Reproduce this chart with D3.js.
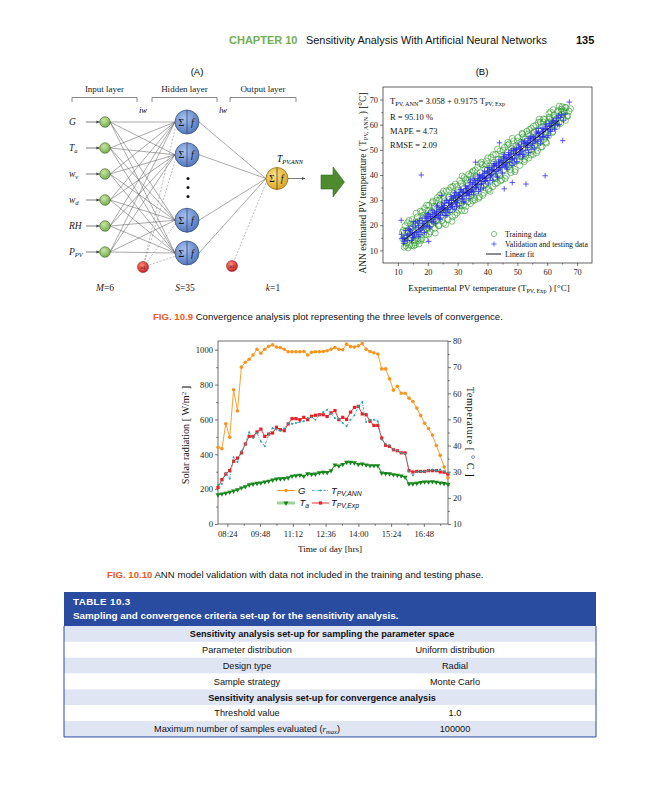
<!DOCTYPE html>
<html>
<head>
<meta charset="utf-8">
<script src="https://cdn.jsdelivr.net/npm/d3@7"></script>
<style>
  body { margin: 0; background: #fff; }
  svg text { font-family: "Liberation Serif", "Times New Roman", serif; }
  svg .sans, svg .sans text { font-family: "Liberation Sans", Arial, sans-serif; }
</style>
</head>
<body>
<div id="page"></div>
<script>
// ---------- data ----------
var times = ["08:00","08:10","08:20","08:30","08:40","08:50","09:00","09:10","09:20","09:30","09:40","09:50",
  "10:00","10:10","10:20","10:30","10:40","10:50","11:00","11:10","11:20","11:30","11:40","11:50",
  "12:00","12:10","12:20","12:30","12:40","12:50","13:00","13:10","13:20","13:30","13:40","13:50",
  "14:00","14:10","14:20","14:30","14:40","14:50","15:00","15:10","15:20","15:30","15:40","15:50",
  "16:00","16:10","16:20","16:30","16:40","16:50","17:00","17:10","17:20","17:30","17:40","17:50"];
var timeTicks = ["08:24","09:48","11:12","12:36","14:00","15:24","16:48"];
var timeMinor = ["09:06","10:30","11:54","13:18","14:42","16:06","17:30"];

var radG = [440, 432, 575, 498, 770, 648, 900, 928, 945, 970,
  1003, 980, 1003, 1020, 1028, 1015, 1012, 1003, 988, 988,
  988, 988, 990, 970, 985, 988, 988, 990, 994, 1003,
  1012, 1003, 1000, 1032, 1018, 1015, 1022, 1035, 1003, 990,
  983, 975, 890, 890, 833, 768, 790, 750, 750, 722,
  703, 665, 622, 578, 548, 510, 450, 394, 327, 265];
var tempA = [21.2, 21.5, 21.8, 22.2, 22.6, 23.1, 23.8, 24.3, 25.0, 25.3,
  25.6, 25.7, 26.1, 26.4, 26.8, 27.2, 27.3, 27.4, 27.7, 28.3,
  28.5, 28.7, 28.3, 29.2, 29.0, 29.1, 29.6, 29.8, 29.7, 30.4,
  32.6, 32.2, 32.8, 33.6, 33.6, 33.4, 32.8, 33.0, 32.6, 32.3,
  32.3, 32.3, 29.5, 29.3, 29.2, 28.9, 28.7, 28.4, 27.9, 25.4,
  25.4, 25.6, 25.9, 26.1, 26.1, 26.2, 26.0, 25.7, 25.5, 25.2];
var tempExp = [24.0, 27.0, 29.1, 30.4, 34.0, 35.2, 37.2, 40.6, 43.5, 43.5,
  45.2, 46.3, 43.5, 44.4, 44.8, 47.0, 46.1, 45.7, 48.3, 50.3,
  50.3, 49.9, 50.8, 49.9, 51.2, 51.6, 51.8, 51.8, 51.1, 52.5,
  53.4, 49.9, 50.8, 50.0, 52.8, 54.6, 55.0, 52.1, 51.8, 49.3,
  47.7, 47.7, 42.9, 40.1, 39.7, 38.4, 38.0, 37.2, 37.2, 30.4,
  29.9, 30.1, 30.1, 30.1, 30.4, 30.4, 30.4, 29.9, 29.8, 29.1];
var tempAnn = [25.0, 25.3, 29.5, 27.3, 35.5, 33.7, 37.8, 40.6, 45.1, 42.9,
  44.8, 41.6, 39.7, 44.2, 46.7, 46.1, 45.7, 46.5, 48.6, 48.3,
  48.6, 49.0, 49.3, 50.5, 50.8, 49.9, 51.6, 52.8, 53.7, 52.1,
  50.5, 50.3, 48.6, 47.4, 49.9, 51.6, 55.0, 56.7, 49.0, 49.9,
  49.9, 49.3, 42.3, 40.6, 40.1, 38.4, 38.0, 37.2, 36.8, 30.1,
  28.6, 29.9, 30.1, 30.1, 30.5, 30.8, 30.4, 30.8, 30.1, 29.5];
var gTicks = [0, 200, 400, 600, 800, 1000];
var tTicks = [10, 20, 30, 40, 50, 60, 70, 80];

// scatter (B)
var trainPts = [[11.5,17.2],[12.1,11.3],[12.4,19.8],[12.8,15.1],[13.0,13.0],[13.2,21.0],[13.5,16.8],[13.9,12.1],[14.2,18.7],[14.4,14.6],[14.8,22.3],[15.0,17.5],[15.3,11.8],[15.6,20.4],[15.9,15.9],
  [16.1,24.8],[16.3,18.2],[16.7,13.9],[16.9,21.7],[17.2,16.4],[17.5,25.6],[17.8,19.3],[18.0,14.7],[18.3,22.9],[18.6,18.0],[18.9,26.8],[19.1,20.5],[19.4,16.2],[19.7,24.1],[20.0,19.1],[20.3,27.9],[20.5,22.0],
  [20.8,17.3],[21.1,25.3],[21.4,20.6],[21.7,29.6],[22.0,23.4],[22.3,18.8],[22.6,27.1],[22.9,22.2],[23.2,31.0],[23.5,25.0],[23.8,19.9],[24.1,28.4],[24.4,23.5],[24.7,32.5],[25.0,26.3],[25.3,20.8],[25.6,29.7],
  [25.9,24.6],[26.2,33.7],[26.5,27.8],[26.8,22.3],[27.1,31.2],[27.4,26.0],[27.7,35.1],[28.0,29.2],[28.3,23.4],[28.6,32.6],[28.9,27.3],[29.2,36.4],[29.5,30.5],[29.8,24.9],[30.1,33.9],[30.4,28.6],
  [30.7,37.8],[31.0,31.9],[31.3,25.8],[31.6,35.4],[31.9,29.8],[32.2,39.0],[32.5,33.1],[32.8,27.5],[33.1,36.7],[33.4,31.0],[33.7,40.3],[34.0,34.5],[34.3,28.6],[34.6,38.2],[34.9,32.4],[35.2,41.6],
  [35.5,35.9],[35.8,30.1],[36.1,39.4],[36.4,33.8],[36.7,43.0],[37.0,37.1],[37.3,31.3],[37.6,40.9],[37.9,35.2],[38.2,44.1],[38.5,38.5],[38.8,32.8],[39.1,42.3],[39.4,36.6],[39.7,45.6],[40.0,39.7],
  [40.3,34.0],[40.6,43.5],[40.9,37.9],[41.2,47.0],[41.5,41.1],[41.8,35.4],[42.1,45.0],[42.4,39.2],[42.7,48.2],[43.0,42.5],[43.3,36.9],[43.6,46.3],[43.9,40.8],[44.2,49.6],[44.5,43.7],[44.8,38.1],
  [45.1,47.8],[45.4,42.0],[45.7,51.0],[46.0,45.1],[46.3,39.6],[46.6,49.1],[46.9,43.4],[47.2,52.3],[47.5,46.4],[47.8,40.9],[48.1,50.6],[48.4,44.7],[48.7,53.5],[49.0,47.9],[49.3,42.2],[49.6,51.8],
  [49.9,46.0],[50.2,54.9],[50.5,49.2],[50.8,43.8],[51.1,53.0],[51.4,47.4],[51.7,56.2],[52.0,50.5],[52.3,45.3],[52.6,54.3],[52.9,48.8],[53.2,57.4],[53.5,51.9],[53.8,46.7],[54.1,55.6],[54.4,50.1],
  [54.7,58.6],[55.0,53.2],[55.3,48.2],[55.6,56.9],[55.9,51.4],[56.2,59.8],[56.5,54.6],[56.8,49.7],[57.1,58.0],[57.4,52.8],[57.7,61.0],[58.0,55.9],[58.3,51.2],[58.6,59.3],[58.9,54.1],
  [59.2,62.1],[59.5,57.2],[59.8,52.7],[60.1,60.5],[60.4,55.5],[60.7,63.0],[61.0,58.4],[61.4,61.6],[61.8,56.9],[62.2,63.9],[62.6,59.7],[63.0,62.3],[63.4,65.1],[63.9,60.8],[64.3,63.6],[64.8,66.2],[65.3,62.4],[65.8,64.9],[66.3,66.8],[66.9,63.5],[67.3,65.4],
  [11.8,18.0],[12.6,11.8],[13.7,21.9],[14.1,15.1],[14.9,19.3],[15.7,13.1],[16.5,23.3],[17.1,12.6],[17.9,20.8],[18.8,17.2],[19.6,28.0],[20.4,16.5],[21.2,24.7],[21.9,21.6],[22.8,29.8],[23.6,19.8],
  [24.5,26.2],[25.2,33.6],[26.0,20.3],[26.9,31.2],[27.6,26.2],[28.4,35.5],[29.1,24.1],[29.9,32.4],[30.8,27.7],[31.5,39.6],[32.4,25.8],[33.2,37.8],[33.9,33.1],[34.8,41.0],[35.6,31.1],[36.3,39.1],
  [37.1,30.7],[38.0,45.1],[38.7,35.7],[39.5,44.1],[40.4,34.6],[41.1,41.7],[41.9,48.1],[42.8,38.5],[43.5,46.2],[44.4,37.7],[45.2,49.9],[46.1,43.6],[46.8,53.0],[47.7,42.1],[48.5,49.6],[49.2,41.3],
  [50.0,53.5],[50.9,47.3],[51.6,56.6],[52.5,46.2],[53.3,53.4],[54.0,58.1],[54.9,49.5],[55.7,57.2],[56.4,48.8],[57.3,62.2],[58.1,55.0],[58.8,61.0],[59.6,53.1],[60.3,60.9],[61.1,65.1],[61.9,57.3],
  [62.8,61.7],[63.6,65.6],[64.5,60.5],[65.6,65.5],[66.6,63.4],[67.8,66.4],[12.3,13.7],[13.4,11.0],[14.6,11.9],[15.8,12.2],[16.6,14.8],[19.0,14.3],[11.6,14.6],[18.2,25.4],[21.5,29.0],[24.0,32.0],
  [65.0,67.2],[66.1,61.7],[64.0,67.4],[62.0,66.0],[60.8,62.4],
  [12.9,17.9],[14.3,20.6],[15.5,14.2],[16.2,21.0],[17.7,14.0],[18.4,24.0],[19.2,18.6],[20.1,25.9],[20.9,20.1],[22.1,27.6],[22.5,16.9],[23.9,30.1],[24.8,21.9],[25.5,31.0],[26.3,25.4],[27.2,34.0],
  [28.1,21.6],[28.8,30.9],[29.7,35.4],[30.3,26.0],[31.1,36.6],[32.0,28.1],[32.7,38.3],[33.5,29.3],[34.4,39.8],[35.1,29.7],[35.9,42.0],[36.8,34.4],[37.5,44.5],[38.4,31.9],[39.3,40.3],[40.1,46.8],
  [40.9,33.5],[41.7,44.3],[42.6,36.4],[43.4,50.3],[44.1,39.6],[45.0,46.3],[45.9,38.6],[46.7,51.9],[47.6,44.0],[48.3,54.6],[49.1,45.4],[50.1,51.2],[50.7,45.6],[51.9,55.1],[52.8,47.4],[53.7,56.3],
  [54.5,47.9],[55.4,59.4],[56.1,52.3],[57.0,60.9],[57.9,51.1],[58.7,62.3],[59.7,55.8],[60.6,64.4],[61.6,59.8],[62.4,62.8],[63.3,59.3],[64.6,65.1],[66.0,66.9],[65.1,64.1]];
var testPts = [[11.2,16.4],[11.9,12.8],[12.5,17.9],[13.1,14.0],[13.6,18.6],[14.0,16.6],[14.5,13.9],[15.0,19.7],[15.4,15.8],[15.9,20.9],[16.3,17.2],[16.8,15.6],[17.2,21.9],[17.6,18.1],[18.1,22.8],[18.5,19.0],
  [18.9,17.1],[19.3,23.6],[19.8,20.0],[20.2,24.7],[20.6,19.4],[21.0,23.5],[21.4,26.0],[21.8,21.2],[22.2,25.1],[22.6,20.6],[23.0,27.3],[23.4,23.0],[23.8,26.2],[24.2,22.4],[24.6,28.5],[25.0,25.1],
  [25.4,27.8],[25.8,23.9],[26.2,29.9],[26.6,26.3],[27.0,28.9],[27.4,25.2],[27.8,31.4],[28.2,27.6],[28.6,30.6],[29.0,26.4],[29.4,32.9],[29.8,29.1],[30.2,31.9],[30.6,27.8],[31.0,34.2],[31.4,30.4],
  [31.8,33.5],[32.2,29.2],[32.6,35.6],[33.0,31.9],[33.4,34.8],[33.8,30.6],[34.2,37.0],[34.6,33.4],[35.0,36.3],[35.4,32.1],[35.8,38.6],[36.2,34.9],[36.6,37.8],[37.0,33.5],[37.4,40.1],[37.8,36.2],
  [38.2,39.3],[38.6,34.9],[39.0,41.6],[39.4,37.8],[39.8,40.8],[40.2,36.4],[40.6,42.9],[41.0,39.3],[41.4,42.2],[41.8,37.9],[42.2,44.5],[42.6,40.7],[43.0,43.8],[43.4,39.2],[43.8,46.0],[44.2,42.1],
  [44.6,45.1],[45.0,40.8],[45.4,47.4],[45.8,43.6],[46.2,46.7],[46.6,42.3],[47.0,48.9],[47.4,45.0],[47.8,48.1],[48.2,43.8],[48.6,50.4],[49.0,46.5],[49.4,49.6],[49.8,45.3],[50.3,51.9],[50.8,48.1],
  [51.3,51.3],[51.8,47.2],[52.3,53.6],[52.8,49.9],[53.3,52.8],[53.8,48.9],[54.3,55.4],[54.8,51.7],[55.3,54.6],[55.8,50.8],[56.3,57.1],[56.8,53.4],[57.3,56.5],[57.8,52.6],[58.3,58.7],[58.8,55.2],
  [59.4,58.4],[60.0,55.0],[60.6,60.5],[61.2,57.3],[61.8,61.4],[62.5,58.2],[63.2,62.6],[64.0,60.1],[64.8,63.9],
  [12.0,15.0],[13.3,16.4],[14.8,17.1],[16.0,19.0],[17.0,17.6],[18.3,20.8],[19.5,19.6],[20.9,23.4],[22.0,22.1],[23.1,25.5],[24.3,24.0],[25.6,27.9],[26.8,26.4],[28.0,29.9],[29.2,28.7],[30.4,32.2],
  [31.6,30.6],[32.8,34.6],[34.0,33.0],[35.2,36.9],[36.4,35.1],[37.6,39.0],[38.8,37.4],[40.0,41.3],[41.2,39.8],[42.4,43.5],[43.6,42.0],[44.8,45.9],[46.0,44.1],[47.2,48.2],[48.4,46.4],[49.6,50.2],
  [50.9,48.8],[52.1,52.5],[53.4,51.0],[54.6,54.8],[55.9,53.1],[57.1,57.0],[58.4,55.4],[59.7,59.4],[61.0,57.9],[62.2,61.5],
  [11.4,14.7],[12.3,13.6],[13.9,18.3],[15.2,15.1],[16.6,21.4],[17.4,16.3],[18.7,20.6],[19.9,24.2],[20.7,18.9],[21.6,24.4],[22.4,23.1],[23.3,27.8],[24.0,22.8],[24.9,26.8],[25.7,29.2],[26.4,23.9],
  [27.3,29.9],[28.1,27.5],[28.9,32.9],[29.6,27.4],[30.5,31.7],[31.2,34.1],[32.0,29.4],[32.9,34.7],[33.6,33.0],[34.4,38.1],[35.3,33.4],[36.0,36.4],[36.8,39.6],[37.7,34.4],[38.4,39.9],[39.2,37.5],
  [40.1,42.9],[40.8,37.9],[41.6,42.0],[42.5,44.4],[43.2,39.2],[44.0,44.4],[44.9,43.6],[45.6,48.1],[46.4,43.2],[47.3,47.0],[48.0,49.8],[48.9,44.8],[49.7,50.4],[50.5,48.2],[51.4,53.2],[52.2,48.1],
  [53.0,51.9],[53.9,54.6],[54.6,50.2],[55.5,55.3],[56.2,54.0],[57.0,58.5],[57.9,54.0],[58.6,57.5],[59.5,60.2],[60.3,55.7],[61.5,60.7],[62.7,59.6],[63.8,63.6],[65.5,61.8],
  [20.0,21.9],[22.7,23.7],[25.3,26.6],[27.9,28.4],[30.0,30.0],[31.9,33.0],[34.5,34.1],[36.9,37.6],[39.1,38.6],[41.5,41.9],[43.9,43.0],[46.5,46.4],[48.8,48.6],[51.1,50.3],[53.6,53.1],[56.0,55.0],
  [58.5,57.2],[60.9,59.4],[26.1,25.0],[33.3,32.6],[38.3,38.9],[45.3,45.6],[29.3,31.0],[35.9,35.0],
  [11.7,14.9],[13.0,15.9],[14.3,17.8],[15.6,16.5],[16.9,19.8],[18.0,18.9],[19.1,21.6],[20.4,22.6],[21.3,21.4],[22.9,24.9],[23.7,24.1],[24.7,27.1],[25.9,26.0],[26.9,28.9],[27.7,27.0],[28.5,30.9],
  [29.5,29.2],[30.7,32.9],[31.7,31.4],[32.5,33.0],[33.8,35.6],[34.9,34.0],[35.6,37.8],[36.5,36.1],[37.3,38.6],[38.0,36.6],[38.9,40.6],[39.7,38.9],[40.5,41.5],[41.3,40.2],[42.0,43.7],[42.9,41.4],
  [43.7,45.1],[44.5,43.0],[45.5,46.8],[46.3,44.9],[47.1,47.9],[47.9,46.2],[48.7,49.6],[49.5,47.8],[50.6,50.9],[51.6,49.5],[52.5,52.8],[53.5,52.0],[54.4,53.9],[55.2,52.6],[56.6,56.6],[57.6,55.2],
  [58.9,58.2],[60.2,58.0],[61.4,59.7],[62.9,61.6],[63.5,60.2],[64.4,62.9],[66.0,64.2],[14.9,15.0],[19.6,22.9],[24.4,26.4],[29.0,31.8],[33.9,32.2],
  [67.4,69.0],[17.8,40.0],[59.3,39.7],[52.9,36.4],[48.3,37.0],[11.1,22.0],[65.2,53.7],[45.6,34.5],[24.5,31.9],[20.3,13.6],[36.0,45.1],[44.0,52.8],[15.3,21.5]];
var fitCoef = [3.058, 0.9175];
var fitRange = [12, 64];
var scatterTicks = [10, 20, 30, 40, 50, 60, 70];

// network diagram (A)
var inputLabels = [["G",""],["T","a"],["w","v"],["w","d"],["RH",""],["P","PV"]];
var hiddenSlots = ["h1","h2","gap","h3","h4"];

// table 10.3
var tableRows = [
  ["sub", "Sensitivity analysis set-up for sampling the parameter space", ""],
  ["row", "Parameter distribution", "Uniform distribution"],
  ["row", "Design type", "Radial"],
  ["row", "Sample strategy", "Monte Carlo"],
  ["sub", "Sensitivity analysis set-up for convergence analysis", ""],
  ["row", "Threshold value", "1.0"],
  ["row", "Maximum number of samples evaluated", "100000"]
];

// ---------- page ----------
var svg = d3.select('#page').append('svg')
  .attr('width', 648)
  .attr('height', 800)

svg.append('rect').attr('width', 648).attr('height', 800).attr('fill', '#fff')

var defs = svg.append('defs')
function grad(id, c1, c2){
  var g = defs.append('radialGradient').attr('id', id)
    .attr('cx', '40%').attr('cy', '35%').attr('r', '70%')
  g.append('stop').attr('offset', '0%').attr('stop-color', c1)
  g.append('stop').attr('offset', '100%').attr('stop-color', c2)
}
grad('gGreen', '#c8e6a4', '#6fa948')
grad('gBlue', '#a9c2ee', '#4d72b8')
grad('gGold', '#fbe08a', '#d9a21e')
grad('gRed', '#ff8a7a', '#c81b1b')

defs.append('marker').attr('id', 'arr')
  .attr('viewBox', '0 0 10 10').attr('refX', 9).attr('refY', 5)
  .attr('markerWidth', 5).attr('markerHeight', 5).attr('orient', 'auto')
  .append('path').attr('d', 'M0,1 L10,5 L0,9 z').attr('fill', '#444')

// header
var head = svg.append('g').attr('class', 'sans')
head.append('text').attr('x', 229).attr('y', 44).attr('font-size', 11)
  .attr('font-weight', 'bold').attr('fill', '#74ae55').text('CHAPTER 10')
head.append('text').attr('x', 306).attr('y', 44).attr('font-size', 10.9)
  .attr('fill', '#111').text('Sensitivity Analysis With Artificial Neural Networks')
head.append('text').attr('x', 576).attr('y', 44).attr('font-size', 11)
  .attr('font-weight', 'bold').attr('fill', '#111').text('135')

// ---------- (A) network ----------
var net = svg.append('g')
net.append('text').attr('class', 'sans').attr('x', 197).attr('y', 75)
  .attr('font-size', 9.5).attr('text-anchor', 'middle').text('(A)')

var layers = [["Input layer", 72, 137], ["Hidden layer", 152, 217], ["Output layer", 230, 296]]
net.selectAll('.bracket').data(layers).enter().append('path')
  .attr('class', 'bracket')
  .attr('d', function(d){ return 'M' + d[1] + ',102V97.5H' + d[2] + 'V102' })
  .attr('fill', 'none').attr('stroke', '#555').attr('stroke-width', 0.7)
net.selectAll('.layerText').data(layers).enter().append('text')
  .attr('class', 'layerText')
  .attr('x', function(d){ return (d[1] + d[2]) / 2 }).attr('y', 92)
  .attr('font-size', 9).attr('text-anchor', 'middle').attr('fill', '#222')
  .text(function(d){ return d[0] })
net.append('text').attr('x', 143).attr('y', 113).attr('font-size', 8.5)
  .attr('font-style', 'italic').attr('text-anchor', 'middle').text('iw')
net.append('text').attr('x', 223).attr('y', 113).attr('font-size', 8.5)
  .attr('font-style', 'italic').attr('text-anchor', 'middle').text('lw')

var inX = 105, hidX = 187, outX = 277, outY = 178.5
var inY = d3.scalePoint().domain(inputLabels.map(function(d){ return d.join('') })).range([122, 252])
var hidY = d3.scalePoint().domain(hiddenSlots).range([122, 253])
var hidden = hiddenSlots.filter(function(d){ return d !== 'gap' })
var b1 = [143, 267], b2 = [232, 266]

var links = []
inputLabels.forEach(function(a){
  hidden.forEach(function(h){
    links.push([inX + 5, inY(a.join('')), hidX - 12, hidY(h)])
  })
})
net.selectAll('.link').data(links).enter().append('line')
  .attr('class', 'link')
  .attr('x1', function(d){ return d[0] }).attr('y1', function(d){ return d[1] })
  .attr('x2', function(d){ return d[2] }).attr('y2', function(d){ return d[3] })
  .attr('stroke', '#555').attr('stroke-width', 0.5)
net.selectAll('.olink').data(hidden).enter().append('line')
  .attr('class', 'olink')
  .attr('x1', hidX + 12).attr('y1', function(d){ return hidY(d) })
  .attr('x2', outX - 11).attr('y2', outY)
  .attr('stroke', '#555').attr('stroke-width', 0.5)
net.selectAll('.blink').data(hidden).enter().append('line')
  .attr('class', 'blink')
  .attr('x1', b1[0]).attr('y1', b1[1])
  .attr('x2', hidX - 11).attr('y2', function(d){ return hidY(d) + 3 })
  .attr('stroke', '#777').attr('stroke-width', 0.5).attr('stroke-dasharray', '2,1.5')
net.append('line').attr('x1', b2[0]).attr('y1', b2[1]).attr('x2', outX - 10).attr('y2', outY + 2)
  .attr('stroke', '#777').attr('stroke-width', 0.5).attr('stroke-dasharray', '2,1.5')

// input arrows, labels, nodes
net.selectAll('.inArrow').data(inputLabels).enter().append('line')
  .attr('class', 'inArrow')
  .attr('x1', 86).attr('x2', 99.5)
  .attr('y1', function(d){ return inY(d.join('')) }).attr('y2', function(d){ return inY(d.join('')) })
  .attr('stroke', '#444').attr('stroke-width', 0.7).attr('marker-end', 'url(#arr)')
var inLab = net.selectAll('.inLab').data(inputLabels).enter().append('text')
  .attr('class', 'inLab')
  .attr('x', 69).attr('y', function(d){ return inY(d.join('')) + 3 })
  .attr('font-size', 9.5).attr('font-style', 'italic').attr('fill', '#222')
inLab.append('tspan').text(function(d){ return d[0] })
inLab.append('tspan').attr('font-size', 6.5).attr('dy', 2).text(function(d){ return d[1] })
net.selectAll('.inNode').data(inputLabels).enter().append('circle')
  .attr('class', 'inNode')
  .attr('cx', inX).attr('cy', function(d){ return inY(d.join('')) }).attr('r', 5.3)
  .attr('fill', 'url(#gGreen)').attr('stroke', '#3f5f2a').attr('stroke-width', 0.6)

// hidden nodes
var hNode = net.selectAll('.hNode').data(hidden).enter().append('g')
  .attr('class', 'hNode')
  .attr('transform', function(d){ return 'translate(' + hidX + ',' + hidY(d) + ')' })
hNode.append('circle').attr('r', 12).attr('fill', 'url(#gBlue)').attr('stroke', '#2d4a80').attr('stroke-width', 0.7)
hNode.append('line').attr('y1', -12).attr('y2', 12).attr('stroke', '#2d4a80').attr('stroke-width', 0.8)
hNode.append('text').attr('x', -5.5).attr('y', 3.5).attr('font-size', 10).attr('text-anchor', 'middle').attr('fill', '#111').text('Σ')
hNode.append('text').attr('x', 5.5).attr('y', 3.5).attr('font-size', 10).attr('font-style', 'italic').attr('text-anchor', 'middle').attr('fill', '#111').text('f')
net.selectAll('.dot').data([-9, 0, 9]).enter().append('circle')
  .attr('class', 'dot')
  .attr('cx', hidX + 1).attr('cy', function(d){ return hidY('gap') + d }).attr('r', 1.5).attr('fill', '#111')

// output node
var oNode = net.append('g').attr('transform', 'translate(' + outX + ',' + outY + ')')
oNode.append('circle').attr('r', 11).attr('fill', 'url(#gGold)').attr('stroke', '#8a6510').attr('stroke-width', 0.7)
oNode.append('line').attr('y1', -11).attr('y2', 11).attr('stroke', '#5a420c').attr('stroke-width', 0.8)
oNode.append('text').attr('x', -5).attr('y', 3.5).attr('font-size', 9.5).attr('text-anchor', 'middle').attr('fill', '#111').text('Σ')
oNode.append('text').attr('x', 5).attr('y', 3.5).attr('font-size', 9.5).attr('font-style', 'italic').attr('text-anchor', 'middle').attr('fill', '#111').text('f')
net.append('line').attr('x1', outX + 11).attr('x2', 305).attr('y1', outY).attr('y2', outY)
  .attr('stroke', '#444').attr('stroke-width', 0.7).attr('marker-end', 'url(#arr)')
var outLab = net.append('text').attr('x', 277).attr('y', 162).attr('font-size', 9.5).attr('font-style', 'italic')
outLab.append('tspan').text('T')
outLab.append('tspan').attr('font-size', 6.3).attr('dy', 2).text('PV,ANN')

// bias nodes
net.selectAll('.bias').data([[b1, '1'], [b2, '2']]).enter().append('circle')
  .attr('class', 'bias')
  .attr('cx', function(d){ return d[0][0] }).attr('cy', function(d){ return d[0][1] }).attr('r', 5.5)
  .attr('fill', 'url(#gRed)').attr('stroke', '#7a1010').attr('stroke-width', 0.5)
net.selectAll('.biasT').data([[b1, '1'], [b2, '2']]).enter().append('text')
  .attr('class', 'biasT')
  .attr('x', function(d){ return d[0][0] }).attr('y', function(d){ return d[0][1] + 2 })
  .attr('font-size', 5).attr('text-anchor', 'middle').attr('fill', '#400')
  .text(function(d){ return 'b' + d[1] })

var counts = [["M", "=6", 105], ["S", "=35", 185], ["k", "=1", 273]]
var cnt = net.selectAll('.cnt').data(counts).enter().append('text')
  .attr('class', 'cnt')
  .attr('x', function(d){ return d[2] }).attr('y', 291)
  .attr('font-size', 9.5).attr('text-anchor', 'middle').attr('fill', '#222')
cnt.append('tspan').attr('font-style', 'italic').text(function(d){ return d[0] })
cnt.append('tspan').text(function(d){ return d[1] })

// big green arrow
svg.append('path')
  .attr('d', 'M321,175H333V167L344.5,182L333,197V189H321Z')
  .attr('fill', '#4e8a2e').attr('stroke', '#3b6c21').attr('stroke-width', 0.6)

// ---------- (B) scatter ----------
var sc = svg.append('g')
sc.append('text').attr('class', 'sans').attr('x', 482).attr('y', 75)
  .attr('font-size', 9.5).attr('text-anchor', 'middle').text('(B)')

var sx = d3.scaleLinear().domain([5, 75]).range([383, 592])
var sy = d3.scaleLinear().domain([5, 75]).range([263, 87])
defs.append('clipPath').attr('id', 'scClip').append('rect')
  .attr('x', 383).attr('y', 87).attr('width', 209).attr('height', 176)

var pts = sc.append('g').attr('clip-path', 'url(#scClip)')
pts.selectAll('.train').data(trainPts).enter().append('circle')
  .attr('class', 'train')
  .attr('cx', function(d){ return sx(d[0]) }).attr('cy', function(d){ return sy(d[1]) })
  .attr('r', 3).attr('fill', 'none').attr('stroke', '#2e9a2e').attr('stroke-width', 0.6)
pts.selectAll('.test').data(testPts).enter().append('path')
  .attr('class', 'test')
  .attr('d', function(d){ var x = sx(d[0]), y = sy(d[1]); return 'M' + (x - 2.8) + ',' + y + 'H' + (x + 2.8) + 'M' + x + ',' + (y - 2.8) + 'V' + (y + 2.8) })
  .attr('stroke', '#2b2bf0').attr('stroke-width', 0.75)
pts.append('line')
  .attr('x1', sx(fitRange[0])).attr('y1', sy(fitCoef[0] + fitCoef[1] * fitRange[0]))
  .attr('x2', sx(fitRange[1])).attr('y2', sy(fitCoef[0] + fitCoef[1] * fitRange[1]))
  .attr('stroke', '#000').attr('stroke-width', 0.9)

sc.append('rect').attr('x', 383).attr('y', 87).attr('width', 209).attr('height', 176)
  .attr('fill', 'none').attr('stroke', '#222').attr('stroke-width', 0.7)

function styleAxis(g, fs){
  g.attr('font-family', '"Liberation Serif", serif').attr('font-size', fs)
  g.selectAll('text').attr('fill', '#222')
  g.selectAll('line').attr('stroke', '#222').attr('stroke-width', 0.6)
  g.select('.domain').remove()
}
var minorS = d3.range(15, 75, 10)
styleAxis(sc.append('g').attr('transform', 'translate(0,263)')
  .call(d3.axisBottom(sx).tickValues(scatterTicks).tickSize(3).tickPadding(3)), 8.3)
styleAxis(sc.append('g').attr('transform', 'translate(0,263)')
  .call(d3.axisBottom(sx).tickValues(minorS).tickSize(1.6).tickFormat('')), 8.3)
styleAxis(sc.append('g').attr('transform', 'translate(383,0)')
  .call(d3.axisLeft(sy).tickValues(scatterTicks).tickSize(3).tickPadding(2)), 8.3)
styleAxis(sc.append('g').attr('transform', 'translate(383,0)')
  .call(d3.axisLeft(sy).tickValues(minorS).tickSize(1.6).tickFormat('')), 8.3)

var eq = sc.append('text').attr('x', 390).attr('y', 104).attr('font-size', 8.6).attr('fill', '#111')
eq.append('tspan').text('T')
eq.append('tspan').attr('font-size', 6.2).attr('dy', 2).text('PV, ANN')
eq.append('tspan').attr('dy', -2).text('= 3.058 + 0.9175 T')
eq.append('tspan').attr('font-size', 6.2).attr('dy', 2).text('PV, Exp')
sc.selectAll('.stat').data(['R = 95.10 %', 'MAPE = 4.73', 'RMSE = 2.09']).enter().append('text')
  .attr('class', 'stat')
  .attr('x', 390).attr('y', function(d, i){ return 119.5 + i * 14 })
  .attr('font-size', 8.5).attr('fill', '#111').text(function(d){ return d })

// scatter legend
sc.append('circle').attr('cx', 494).attr('cy', 234).attr('r', 2.6).attr('fill', 'none').attr('stroke', '#2e9a2e').attr('stroke-width', 0.6)
sc.append('path').attr('d', 'M491.4,244H496.6M494,241.4V246.6').attr('stroke', '#2b2bf0').attr('stroke-width', 0.7)
sc.append('line').attr('x1', 486).attr('x2', 501).attr('y1', 254).attr('y2', 254).attr('stroke', '#000').attr('stroke-width', 0.9)
sc.selectAll('.slg').data(['Training data', 'Validation and testing data', 'Linear fit']).enter().append('text')
  .attr('class', 'slg')
  .attr('x', 505).attr('y', function(d, i){ return 236.5 + i * 10 })
  .attr('font-size', 7.8).attr('fill', '#111').text(function(d){ return d })

var syl = sc.append('text').attr('transform', 'translate(366,183) rotate(-90)')
  .attr('text-anchor', 'middle').attr('font-size', 9.4).attr('fill', '#111')
syl.append('tspan').text('ANN estimated PV temperature ( T')
syl.append('tspan').attr('font-size', 6.3).attr('dy', 2).text('PV, ANN')
syl.append('tspan').attr('dy', -2).text(' ) [°C]')
var sxl = sc.append('text').attr('x', 489).attr('y', 291)
  .attr('text-anchor', 'middle').attr('font-size', 9).attr('fill', '#111')
sxl.append('tspan').text('Experimental PV temperature (T')
sxl.append('tspan').attr('font-size', 6.2).attr('dy', 2).text('PV, Exp')
sxl.append('tspan').attr('dy', -2).text(' ) [°C]')

// caption 10.9
var cap1 = svg.append('text').attr('class', 'sans').attr('x', 153).attr('y', 319.5).attr('font-size', 9.6)
cap1.append('tspan').attr('font-weight', 'bold').attr('fill', '#ef5a24').text('FIG. 10.9')
cap1.append('tspan').attr('fill', '#111').text(' Convergence analysis plot representing the three levels of convergence.')

// ---------- line chart 10.10 ----------
function toMin(s){ var p = s.split(':'); return +p[0] * 60 + +p[1] }
var lc = svg.append('g')
var lx = d3.scaleLinear().domain([toMin(times[0]), toMin(times[times.length - 1])]).range([218, 448])
var yG = d3.scaleLinear().domain([0, 1050]).range([524, 341])
var yT = d3.scaleLinear().domain([10, 80]).range([524, 341])

var series = times.map(function(t, i){
  return { m: toMin(t), g: radG[i], a: tempA[i], e: tempExp[i], n: tempAnn[i] }
})

lc.append('rect').attr('x', 218).attr('y', 341).attr('width', 230).attr('height', 183)
  .attr('fill', 'none').attr('stroke', '#333').attr('stroke-width', 0.7)

styleAxis(lc.append('g').attr('transform', 'translate(0,524)')
  .call(d3.axisBottom(lx).tickValues(timeTicks.map(toMin)).tickSize(3).tickPadding(4)
    .tickFormat(function(d, i){ return timeTicks[i] })), 8.6)
styleAxis(lc.append('g').attr('transform', 'translate(0,524)')
  .call(d3.axisBottom(lx).tickValues(timeMinor.map(toMin)).tickSize(1.8).tickFormat('')), 8.6)
styleAxis(lc.append('g').attr('transform', 'translate(218,0)')
  .call(d3.axisLeft(yG).tickValues(gTicks).tickSize(3).tickPadding(2).tickFormat(d3.format('d'))), 8.6)
styleAxis(lc.append('g').attr('transform', 'translate(218,0)')
  .call(d3.axisLeft(yG).tickValues(d3.range(100, 1050, 200)).tickSize(1.8).tickFormat('')), 8.6)
styleAxis(lc.append('g').attr('transform', 'translate(448,0)')
  .call(d3.axisRight(yT).tickValues(tTicks).tickSize(3).tickPadding(2)), 8.6)
styleAxis(lc.append('g').attr('transform', 'translate(448,0)')
  .call(d3.axisRight(yT).tickValues(d3.range(15, 80, 10)).tickSize(1.8).tickFormat('')), 8.6)

var lineG = d3.line().x(function(d){ return lx(d.m) }).y(function(d){ return yG(d.g) })
var lineA = d3.line().x(function(d){ return lx(d.m) }).y(function(d){ return yT(d.a) })
var lineE = d3.line().x(function(d){ return lx(d.m) }).y(function(d){ return yT(d.e) })
var lineN = d3.line().x(function(d){ return lx(d.m) }).y(function(d){ return yT(d.n) })

var cOr = '#f7941d', cGr = '#17871d', cRd = '#ee1c25', cTl = '#2f9d9e'

lc.append('path').datum(series).attr('d', lineG).attr('fill', 'none').attr('stroke', cOr).attr('stroke-width', 0.9)
lc.selectAll('.gPt').data(series).enter().append('circle')
  .attr('class', 'gPt')
  .attr('cx', function(d){ return lx(d.m) }).attr('cy', function(d){ return yG(d.g) })
  .attr('r', 1.8).attr('fill', cOr)

lc.append('path').datum(series).attr('d', lineA).attr('fill', 'none').attr('stroke', cGr).attr('stroke-width', 1)
var tri = d3.symbol().type(d3.symbolTriangle).size(11)
lc.selectAll('.aPt').data(series).enter().append('path')
  .attr('class', 'aPt')
  .attr('d', tri)
  .attr('transform', function(d){ return 'translate(' + lx(d.m) + ',' + yT(d.a) + ') rotate(180)' })
  .attr('fill', cGr)

lc.append('path').datum(series).attr('d', lineE).attr('fill', 'none').attr('stroke', cRd).attr('stroke-width', 0.9)
lc.selectAll('.ePt').data(series).enter().append('rect')
  .attr('class', 'ePt')
  .attr('x', function(d){ return lx(d.m) - 1.6 }).attr('y', function(d){ return yT(d.e) - 1.6 })
  .attr('width', 3.2).attr('height', 3.2).attr('fill', cRd)

lc.append('path').datum(series).attr('d', lineN).attr('fill', 'none').attr('stroke', cTl)
  .attr('stroke-width', 0.8).attr('stroke-dasharray', '2.5,1.2,0.8,1.2')
lc.selectAll('.nPt').data(series).enter().append('circle')
  .attr('class', 'nPt')
  .attr('cx', function(d){ return lx(d.m) }).attr('cy', function(d){ return yT(d.n) })
  .attr('r', 1).attr('fill', cTl)

// legend
var leg = lc.append('g')
leg.append('line').attr('x1', 277).attr('x2', 295).attr('y1', 490.5).attr('y2', 490.5).attr('stroke', cOr).attr('stroke-width', 0.9)
leg.append('circle').attr('cx', 286).attr('cy', 490.5).attr('r', 1.8).attr('fill', cOr)
leg.append('line').attr('x1', 277).attr('x2', 295).attr('y1', 503).attr('y2', 503).attr('stroke', '#9fd39a').attr('stroke-width', 3)
leg.append('path').attr('d', tri).attr('transform', 'translate(286,503) rotate(180)').attr('fill', cGr)
leg.append('line').attr('x1', 312).attr('x2', 329).attr('y1', 490.5).attr('y2', 490.5).attr('stroke', cTl)
  .attr('stroke-width', 0.8).attr('stroke-dasharray', '2.5,1.2,0.8,1.2')
leg.append('circle').attr('cx', 320.5).attr('cy', 490.5).attr('r', 1).attr('fill', cTl)
leg.append('line').attr('x1', 312).attr('x2', 329).attr('y1', 503).attr('y2', 503).attr('stroke', cRd).attr('stroke-width', 0.9)
leg.append('rect').attr('x', 318.9).attr('y', 501.4).attr('width', 3.2).attr('height', 3.2).attr('fill', cRd)

var legItems = [["G", "", 298, 493.5], ["T", "a", 299.5, 506], ["T", "PV,ANN", 331, 493.5], ["T", "PV,Exp", 331, 506]]
var lt = leg.selectAll('.lt').data(legItems).enter().append('text')
  .attr('class', 'lt sans')
  .attr('x', function(d){ return d[2] }).attr('y', function(d){ return d[3] })
  .attr('font-size', 9.5).attr('font-style', 'italic').attr('fill', '#111')
lt.append('tspan').text(function(d){ return d[0] })
lt.append('tspan').attr('font-size', 6.8).attr('dy', 2).text(function(d){ return d[1] })

lc.append('text').attr('x', 330).attr('y', 552).attr('text-anchor', 'middle')
  .attr('font-size', 9.2).attr('fill', '#111').text('Time of day [hrs]')
var ylL = lc.append('text').attr('transform', 'translate(189,435) rotate(-90)')
  .attr('text-anchor', 'middle').attr('font-size', 10.2).attr('fill', '#111')
ylL.append('tspan').text('Solar radiation [ W/m')
ylL.append('tspan').attr('font-size', 6.8).attr('dy', -3.5).text('2')
ylL.append('tspan').attr('dy', 3.5).text(' ]')
lc.append('text').attr('transform', 'translate(467,432) rotate(90)')
  .attr('text-anchor', 'middle').attr('font-size', 10.2).attr('letter-spacing', 0.6).attr('fill', '#111').text('Temperature [ ° C ]')

// caption 10.10
var cap2 = svg.append('text').attr('class', 'sans').attr('x', 107).attr('y', 577.5).attr('font-size', 9.6)
cap2.append('tspan').attr('font-weight', 'bold').attr('fill', '#ef5a24').text('FIG. 10.10')
cap2.append('tspan').attr('fill', '#111').text(' ANN model validation with data not included in the training and testing phase.')

// ---------- table 10.3 ----------
var tb = svg.append('g').attr('class', 'sans')
var tLeft = 64, tRight = 596, rowH = 15.85, rowTop = 626
tb.append('rect').attr('x', tLeft).attr('y', 592).attr('width', tRight - tLeft).attr('height', rowTop - 592).attr('fill', '#2a4ca0')
tb.append('text').attr('x', 73).attr('y', 605).attr('font-size', 9.8).attr('font-weight', 'bold').attr('letter-spacing', 0.4).attr('fill', '#fff').text('TABLE 10.3')
tb.append('text').attr('x', 73).attr('y', 618.5).attr('font-size', 9.9).attr('font-weight', 'bold').attr('fill', '#fff')
  .text('Sampling and convergence criteria set-up for the sensitivity analysis.')

var rows = tb.selectAll('.trow').data(tableRows).enter().append('g')
  .attr('class', 'trow')
  .attr('transform', function(d, i){ return 'translate(0,' + (rowTop + i * rowH) + ')' })
rows.append('rect').attr('x', tLeft).attr('width', tRight - tLeft).attr('height', rowH)
  .attr('fill', function(d, i){ return i % 2 === 0 ? '#dfe5f3' : '#fff' })
rows.filter(function(d){ return d[0] === 'sub' }).append('text')
  .attr('x', 322).attr('y', rowH / 2 + 3.3).attr('text-anchor', 'middle')
  .attr('font-size', 9.2).attr('font-weight', 'bold').attr('fill', '#111')
  .text(function(d){ return d[1] })
var leftCells = rows.filter(function(d){ return d[0] === 'row' }).append('text')
  .attr('x', 247).attr('y', rowH / 2 + 3.3).attr('text-anchor', 'middle')
  .attr('font-size', 9.2).attr('fill', '#111')
leftCells.append('tspan').text(function(d){ return d[1] })
leftCells.filter(function(d){ return d[1].indexOf('Maximum') === 0 }).each(function(){
  var t = d3.select(this)
  t.append('tspan').text(' (')
  t.append('tspan').attr('font-family', '"Liberation Serif", serif').attr('font-style', 'italic').text('r')
  t.append('tspan').attr('font-family', '"Liberation Serif", serif').attr('font-style', 'italic').attr('font-size', 6.5).attr('dy', 1.5).text('max')
  t.append('tspan').attr('dy', -1.5).text(')')
})
rows.filter(function(d){ return d[0] === 'row' }).append('text')
  .attr('x', 455).attr('y', rowH / 2 + 3.3).attr('text-anchor', 'middle')
  .attr('font-size', 9.2).attr('fill', '#111')
  .text(function(d){ return d[2] })

var tBottom = rowTop + tableRows.length * rowH
tb.append('path')
  .attr('d', 'M' + tLeft + ',' + rowTop + 'V' + tBottom + 'H' + tRight + 'V' + rowTop)
  .attr('fill', 'none').attr('stroke', '#2a4ca0').attr('stroke-width', 1)
</script>
</body>
</html>
